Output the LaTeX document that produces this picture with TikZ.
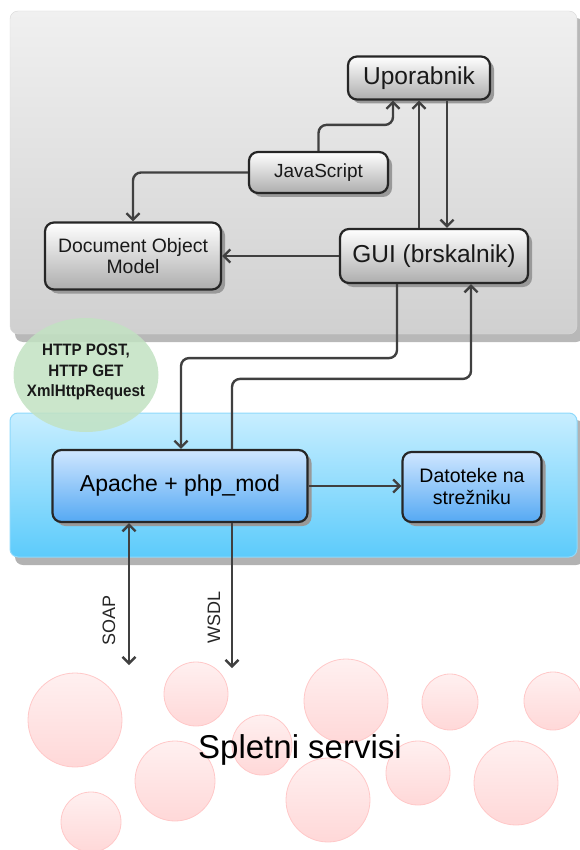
\documentclass[tikz,border=0pt]{standalone}
\usepackage{fontspec}
\setmainfont{Liberation Sans}
\newfontfamily\notefont[FakeStretch=0.92]{Liberation Sans}
\usetikzlibrary{arrows.meta,shadows,shapes.geometric}

\definecolor{linegray}{HTML}{404040}
\definecolor{paneltop}{HTML}{F0F0F0}
\definecolor{panelbot}{HTML}{D0D0D0}
\definecolor{bluetop}{HTML}{C8EEFF}
\definecolor{bluebot}{HTML}{5CCBFB}
\definecolor{blueedge}{HTML}{8ED9FB}
\definecolor{boxbluetop}{HTML}{CFE6FF}
\definecolor{boxbluebot}{HTML}{55A9F3}
\definecolor{notegreen}{HTML}{C2E2C2}
\definecolor{pinktop}{HTML}{FFF0F0}
\definecolor{pinkbot}{HTML}{FFD8D8}
\definecolor{pinkedge}{HTML}{FFC8C8}

\tikzset{
  chev/.tip={Straight Barb[length=6.5pt,width=13pt]},
  graybox/.style={draw=black!85, line width=2.2pt, rounded corners=9pt,
    top color=white, bottom color=black!32, align=center, inner sep=0pt,
    text=black!90,
    drop shadow={shadow xshift=4pt, shadow yshift=-4pt, fill=black!40, opacity=1}},
  bluebox/.style={graybox, top color=boxbluetop, bottom color=boxbluebot, text=black},
  conn/.style={draw=linegray, line width=2.4pt, rounded corners=8pt, -chev},
  bubble/.style={draw=pinkedge, line width=0.8pt, top color=pinktop, bottom color=pinkbot},
}

\begin{document}
\begin{tikzpicture}[x=1pt,y=-1pt]
  \useasboundingbox (0,0) rectangle (579,850);

  % client panel (browser side)
  \fill[black!28, rounded corners=8pt] (15,18) rectangle (584,342);
  \shade[top color=paneltop, bottom color=panelbot, draw=black!15, rounded corners=8pt]
    (10,11) rectangle (577,334);

  % server panel
  \fill[black!30, rounded corners=8pt] (15,420) rectangle (584,565);
  \shade[top color=bluetop, bottom color=bluebot, draw=blueedge, line width=1pt, rounded corners=8pt]
    (10,413) rectangle (577,557);

  % request note
  \fill[notegreen, opacity=0.85] (86,375) ellipse [x radius=72.5, y radius=57];
  \node[align=center, inner sep=0pt, text=black!90,
        font=\notefont\bfseries\fontsize{16.5}{20.5}\selectfont]
    (httpnote) at (86,372) {HTTP POST,\\HTTP GET\\XmlHttpRequest};

  % web services
  \foreach \cx/\cy/\rx/\ry in {75/720/47/47, 196/694/32/32, 346/701/42/42,
      450/702/28/28, 553/701/29/29, 262/745/30/30, 175/781/40/40,
      91/822/30/30, 328/800/42/42, 418/773/32/32, 516/783/42/42}
    \shade[bubble] (\cx,\cy) ellipse [x radius=\rx, y radius=\ry];
  \node[font=\fontsize{33}{38}\selectfont] (servisi) at (300,750) {Spletni servisi};

  % boxes
  \node[graybox, minimum width=142pt, minimum height=43pt,
        font=\fontsize{24.5}{28}\selectfont] (upor) at (419,78) {Uporabnik};
  \node[graybox, minimum width=139pt, minimum height=41pt,
        font=\fontsize{19}{22}\selectfont] (js) at (318.5,172.5) {JavaScript};
  \node[graybox, minimum width=176pt, minimum height=67pt,
        font=\fontsize{19.4}{21.5}\selectfont] (dom) at (133,256) {Document Object\\Model};
  \node[graybox, minimum width=188pt, minimum height=54pt,
        font=\fontsize{24.5}{28}\selectfont] (gui) at (434,256) {GUI (brskalnik)};
  \node[bluebox, minimum width=255pt, minimum height=72pt,
        font=\fontsize{23}{27}\selectfont] (apache) at (180,486) {Apache + php\_mod};
  \node[bluebox, minimum width=139pt, minimum height=70pt,
        font=\fontsize{19.5}{22}\selectfont] (datoteke) at (472,487) {Datoteke na\\strežniku};

  % connectors
  \draw[conn] (js.north) -- ++(0,-26) -| ([xshift=-26pt]upor.south);
  \draw[conn] (js.west) -| (dom.north);
  \draw[conn] (upor.south |- gui.north) -- (upor.south);
  \draw[conn] ([xshift=28pt]upor.south) -- ([xshift=28pt]upor.south |- gui.north);
  \draw[conn] (gui.west) -- (dom.east);
  \draw[conn] ([xshift=-37pt]gui.south) -- ++(0,74) -| ([xshift=1pt]apache.north);
  \draw[conn] ([xshift=52pt]apache.north) -- ++(0,-70) -| ([xshift=37pt]gui.south);
  \draw[conn] (apache.east) -- (apache.east -| datoteke.west);

  % SOAP / WSDL
  \coordinate (soapEnd) at (129,665);
  \coordinate (wsdlEnd) at (232,668);
  \draw[conn, chev-chev] (soapEnd |- apache.south) -- (soapEnd);
  \draw[conn] (wsdlEnd |- apache.south) -- (wsdlEnd);
  \node[rotate=90, font=\fontsize{18}{20}\selectfont, text=black!85] (soap) at (109,620) {SOAP};
  \node[rotate=90, font=\fontsize{18}{20}\selectfont, text=black!85] (wsdl) at (214,617) {WSDL};
\end{tikzpicture}
\end{document}
